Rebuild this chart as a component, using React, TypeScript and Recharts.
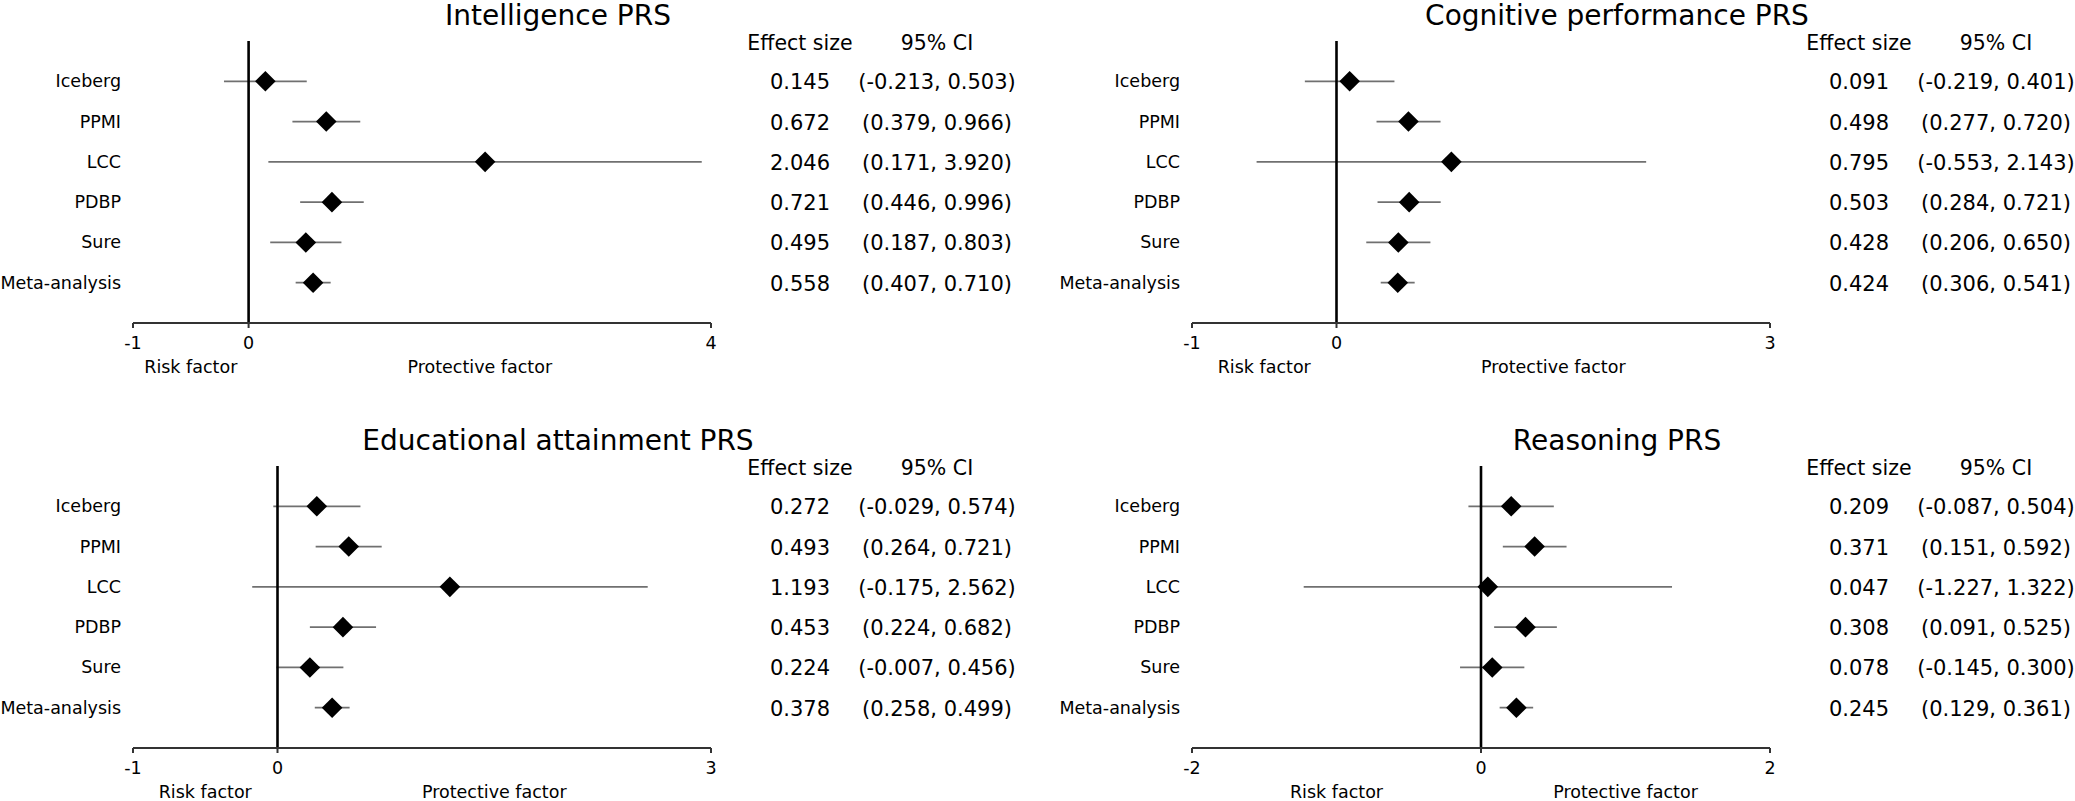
import React from 'react';
import { ScatterChart, Scatter, XAxis, YAxis, ErrorBar, ReferenceLine } from 'recharts';

const studies = ['Iceberg', 'PPMI', 'LCC', 'PDBP', 'Sure', 'Meta-analysis'];

const intelligenceEst = [0.145, 0.672, 2.046, 0.721, 0.495, 0.558];
const intelligenceLow = [-0.213, 0.379, 0.171, 0.446, 0.187, 0.407];
const intelligenceHigh = [0.503, 0.966, 3.92, 0.996, 0.803, 0.71];

const cognitiveEst = [0.091, 0.498, 0.795, 0.503, 0.428, 0.424];
const cognitiveLow = [-0.219, 0.277, -0.553, 0.284, 0.206, 0.306];
const cognitiveHigh = [0.401, 0.72, 2.143, 0.721, 0.65, 0.541];

const educationEst = [0.272, 0.493, 1.193, 0.453, 0.224, 0.378];
const educationLow = [-0.029, 0.264, -0.175, 0.224, -0.007, 0.258];
const educationHigh = [0.574, 0.721, 2.562, 0.682, 0.456, 0.499];

const reasoningEst = [0.209, 0.371, 0.047, 0.308, 0.078, 0.245];
const reasoningLow = [-0.087, 0.151, -1.227, 0.091, -0.145, 0.129];
const reasoningHigh = [0.504, 0.592, 1.322, 0.525, 0.3, 0.361];

const FONT = '"DejaVu Sans", Verdana, sans-serif';

interface PanelProps {
  title: string;
  est: number[];
  low: number[];
  high: number[];
  domain: [number, number];
  left: number;
  top: number;
}

function Diamond(props: any) {
  const { cx, cy } = props;
  const r = 10.3;
  return (
    <polygon
      points={`${cx - r},${cy} ${cx},${cy - r} ${cx + r},${cy} ${cx},${cy + r}`}
      fill="#000"
    />
  );
}

const NoShape = () => <g />;

function Panel({ title, est, low, high, domain, left, top }: PanelProps) {
  const rows = studies.map((name, i) => ({
    name,
    row: i + 1,
    est: est[i],
    ci: [est[i] - low[i], high[i] - est[i]],
  }));
  const [xMin, xMax] = domain;

  // study name on the left, effect size + CI table on the right (row 0 = header)
  const RowTick = ({ x, y, payload }: any) => {
    const i = payload.value - 1;
    if (i < 0) {
      return (
        <g fontFamily={FONT} fontSize={20.5} fill="#000">
          <text x={x + 679} y={y + 9} textAnchor="middle">Effect size</text>
          <text x={x + 816} y={y + 9} textAnchor="middle">95% CI</text>
        </g>
      );
    }
    return (
      <g fontFamily={FONT} fill="#000">
        <text x={x} y={y + 6} textAnchor="end" fontSize={17.5}>
          {studies[i]}
        </text>
        <text x={x + 679} y={y + 8} textAnchor="middle" fontSize={21}>
          {est[i].toFixed(3)}
        </text>
        <text x={x + 816} y={y + 8} textAnchor="middle" fontSize={21}>
          {`(${low[i].toFixed(3)}, ${high[i].toFixed(3)})`}
        </text>
      </g>
    );
  };

  const ValueTick = ({ x, y, payload }: any) => (
    <g>
      <line x1={x} x2={x} y1={y} y2={y + 5} stroke="#333" strokeWidth={2} />
      <text x={x} y={y + 26} textAnchor="middle" fontSize={17.5} fontFamily={FONT} fill="#000">
        {String(payload.value)}
      </text>
    </g>
  );

  const SideTick = ({ x, y, payload }: any) => (
    <text x={x} y={y + 26} textAnchor="middle" fontSize={17.5} fontFamily={FONT} fill="#000">
      {payload.value < 0 ? 'Risk factor' : 'Protective factor'}
    </text>
  );

  return (
    <div style={{ position: 'absolute', left, top, width: 1030, height: 425 }}>
      <svg
        width={1030}
        height={40}
        style={{ position: 'absolute', left: 0, top: 0, overflow: 'visible' }}
      >
        <text x={558} y={25} textAnchor="middle" fontSize={28} fontFamily={FONT} fill="#000">
          {title}
        </text>
      </svg>
      <ScatterChart
        width={1030}
        height={425}
        margin={{ top: 41, right: 319, bottom: 38, left: 0 }}
        style={{ overflow: 'visible' }}
      >
        <XAxis
          xAxisId="main"
          type="number"
          dataKey="est"
          domain={[xMin, xMax]}
          ticks={[xMin, 0, xMax]}
          interval={0}
          allowDataOverflow
          height={24}
          tickSize={0}
          tickMargin={0}
          tickLine={false}
          axisLine={{ stroke: '#333', strokeWidth: 2 }}
          tick={<ValueTick />}
        />
        <XAxis
          xAxisId="side"
          type="number"
          dataKey="est"
          domain={[xMin, xMax]}
          ticks={[xMin / 2, xMax / 2]}
          interval={0}
          allowDataOverflow
          height={40}
          tickSize={0}
          tickMargin={0}
          tickLine={false}
          axisLine={false}
          tick={<SideTick />}
        />
        <YAxis
          yAxisId="l"
          type="number"
          dataKey="row"
          domain={[0, 7]}
          ticks={[0, 1, 2, 3, 4, 5, 6]}
          interval={0}
          reversed
          width={133}
          tickSize={0}
          tickMargin={12}
          tickLine={false}
          axisLine={false}
          tick={<RowTick />}
        />
        <Scatter
          xAxisId="main"
          yAxisId="l"
          data={rows}
          shape={<NoShape />}
          isAnimationActive={false}
        >
          <ErrorBar
            dataKey="ci"
            direction="x"
            width={0}
            stroke="#707070"
            strokeWidth={1.7}
            isAnimationActive={false}
          />
        </Scatter>
        <ReferenceLine xAxisId="main" yAxisId="l" x={0} stroke="#000" strokeWidth={2.6} />
        <Scatter
          xAxisId="main"
          yAxisId="l"
          data={rows}
          shape={<Diamond />}
          isAnimationActive={false}
        />
      </ScatterChart>
    </div>
  );
}

export default function App() {
  return (
    <div
      style={{
        position: 'absolute',
        left: 0,
        top: 0,
        width: 2075,
        height: 801,
        overflow: 'hidden',
        background: '#fff',
      }}
    >
      <Panel
        title="Intelligence PRS"
        est={intelligenceEst}
        low={intelligenceLow}
        high={intelligenceHigh}
        domain={[-1, 4]}
        left={0}
        top={0}
      />
      <Panel
        title="Cognitive performance PRS"
        est={cognitiveEst}
        low={cognitiveLow}
        high={cognitiveHigh}
        domain={[-1, 3]}
        left={1059}
        top={0}
      />
      <Panel
        title="Educational attainment PRS"
        est={educationEst}
        low={educationLow}
        high={educationHigh}
        domain={[-1, 3]}
        left={0}
        top={425}
      />
      <Panel
        title="Reasoning PRS"
        est={reasoningEst}
        low={reasoningLow}
        high={reasoningHigh}
        domain={[-2, 2]}
        left={1059}
        top={425}
      />
    </div>
  );
}
